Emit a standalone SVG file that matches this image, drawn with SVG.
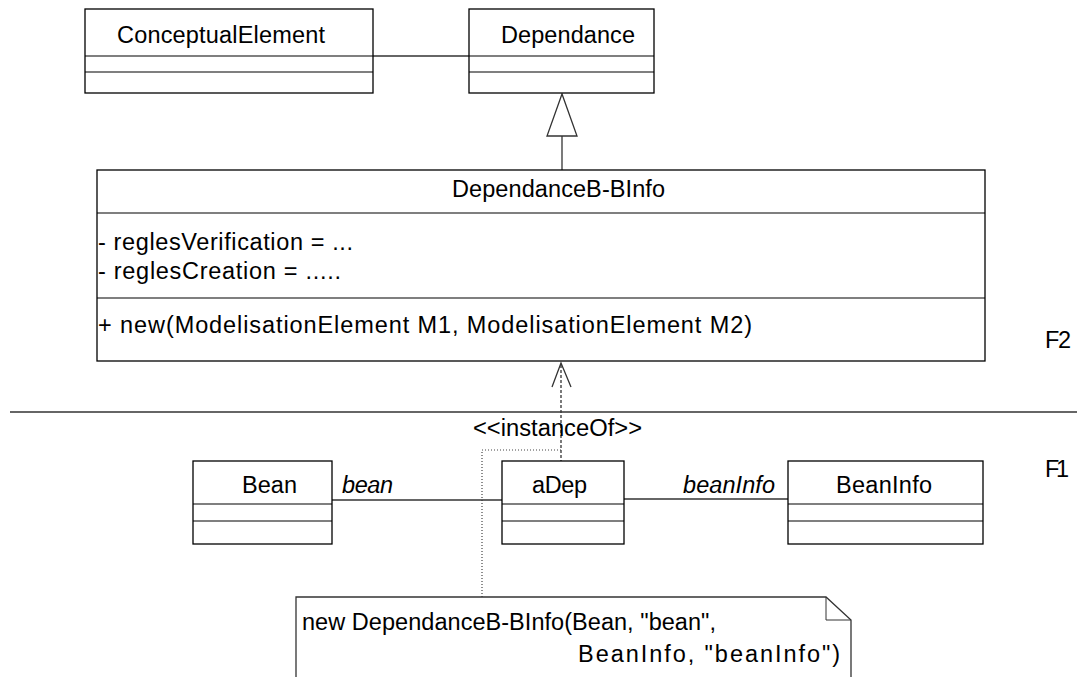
<svg xmlns="http://www.w3.org/2000/svg" width="1077" height="677" viewBox="0 0 1077 677">
<style>
.box{fill:#fff;stroke:#000;stroke-width:1.3}
.sep{stroke:#000;stroke-width:1.2}
.ln{stroke:#333;stroke-width:1.3;fill:none}
.dash{stroke:#333;stroke-width:1.3;fill:none;stroke-dasharray:3 2}
.dot{stroke:#444;stroke-width:1.2;fill:none;stroke-dasharray:1 2}
text{font-family:"Liberation Sans",Arial,sans-serif;font-size:23.5px;fill:#000}
.it{font-style:italic}
</style>
<rect width="1077" height="677" fill="#fff"/>
<g id="connectors">
<line class="ln" x1="373" y1="56" x2="469" y2="56"/>
<line class="ln" x1="562" y1="136" x2="562" y2="170"/>
<polygon points="562,94 547,136 577,136" fill="#fff" stroke="#333" stroke-width="1.3"/>
<line class="dash" x1="561" y1="365" x2="561" y2="461"/>
<polyline class="ln" points="552,387 561,363 571,387"/>
<polyline class="dot" points="561,450 482,450 482,597"/>
<line class="ln" x1="332" y1="500" x2="502" y2="500"/>
<line class="ln" x1="624" y1="499" x2="788" y2="499"/>
<text x="473" y="436" textLength="169" lengthAdjust="spacingAndGlyphs">&lt;&lt;instanceOf&gt;&gt;</text>
<text class="it" x="342" y="493" textLength="51">bean</text>
<text class="it" x="683" y="493" textLength="92">beanInfo</text>
</g>
<line x1="10" y1="412" x2="1077" y2="412" stroke="#333" stroke-width="1.3"/>
<text x="1045" y="348" textLength="26">F2</text>
<text x="1045" y="477" textLength="24">F1</text>
<g id="ConceptualElement">
<rect class="box" x="85" y="9" width="288" height="84"/>
<line class="sep" x1="85" y1="56" x2="373" y2="56"/>
<line class="sep" x1="85" y1="72" x2="373" y2="72"/>
<text x="117" y="43" textLength="208">ConceptualElement</text>
</g>
<g id="Dependance">
<rect class="box" x="469" y="9" width="185" height="84"/>
<line class="sep" x1="469" y1="56" x2="654" y2="56"/>
<line class="sep" x1="469" y1="72" x2="654" y2="72"/>
<text x="501" y="43" textLength="134">Dependance</text>
</g>
<g id="DependanceB-BInfo">
<rect class="box" x="97" y="170" width="888" height="191"/>
<line class="sep" x1="97" y1="213" x2="985" y2="213"/>
<line class="sep" x1="97" y1="298" x2="985" y2="298"/>
<text x="452" y="197" textLength="213">DependanceB-BInfo</text>
<text x="98" y="250" textLength="255">- reglesVerification = ...</text>
<text x="98" y="279" textLength="243">- reglesCreation = .....</text>
<text x="98" y="333" textLength="654">+ new(ModelisationElement M1, ModelisationElement M2)</text>
</g>
<g id="Bean">
<rect class="box" x="193" y="461" width="139" height="83"/>
<line class="sep" x1="193" y1="504" x2="332" y2="504"/>
<line class="sep" x1="193" y1="521" x2="332" y2="521"/>
<text x="242" y="493" textLength="55">Bean</text>
</g>
<g id="aDep">
<rect class="box" x="502" y="461" width="122" height="83"/>
<line class="sep" x1="502" y1="504" x2="624" y2="504"/>
<line class="sep" x1="502" y1="521" x2="624" y2="521"/>
<text x="532" y="493" textLength="55">aDep</text>
</g>
<g id="BeanInfo">
<rect class="box" x="788" y="461" width="195" height="83"/>
<line class="sep" x1="788" y1="504" x2="983" y2="504"/>
<line class="sep" x1="788" y1="521" x2="983" y2="521"/>
<text x="836" y="493" textLength="96">BeanInfo</text>
</g>
<g id="note">
<polygon points="296,597 826,597 851,620 851,690 296,690" fill="#fff" stroke="#333" stroke-width="1.3"/>
<polyline points="826,597 826,620 851,620" fill="none" stroke="#333" stroke-width="1"/>
<text x="302" y="630" textLength="414">new DependanceB-BInfo(Bean, "bean",</text>
<text x="578" y="662" textLength="262">BeanInfo, "beanInfo")</text>
</g>
</svg>
